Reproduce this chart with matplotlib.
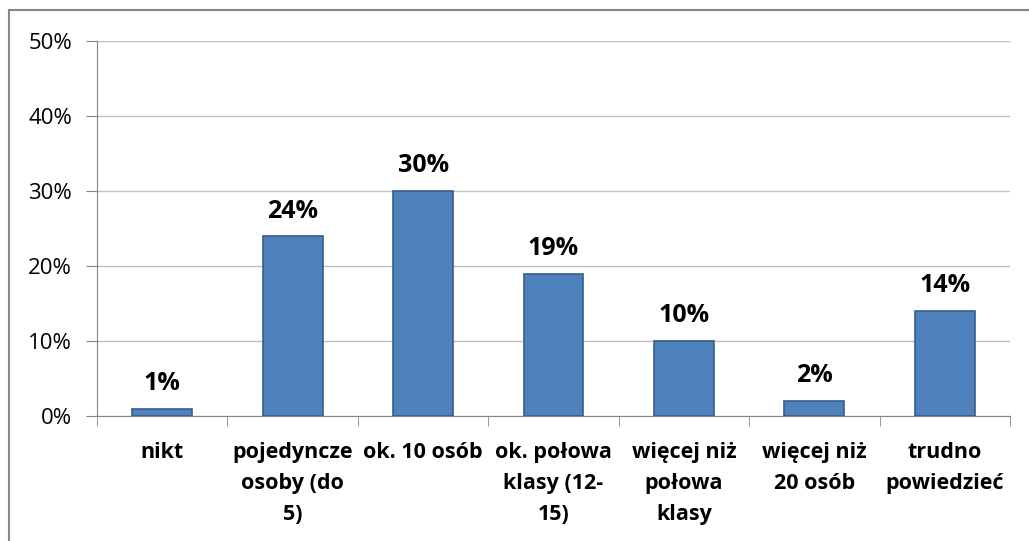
import numpy as np
import matplotlib.pyplot as plt
from matplotlib.patches import Rectangle

# dane z wykresu
kategorie = ['nikt', 'pojedyncze\nosoby (do\n5)', 'ok. 10 osób', 'ok. połowa\nklasy (12-\n15)',
             'więcej niż\npołowa\nklasy', 'więcej niż\n20 osób', 'trudno\npowiedzieć']
wartosci = [1, 24, 30, 19, 10, 2, 14]
etykiety_y = ['0%', '10%', '20%', '30%', '40%', '50%']

plt.rcParams['font.family'] = ['Open Sans', 'DejaVu Sans']

fig = plt.figure(figsize=(10.29, 5.41), dpi=100)
ax = fig.add_axes([97/1029, 1-416/541, (1010-97)/1029, (416-41)/541])

x = np.arange(len(kategorie))
ax.bar(x, wartosci, width=0.46, color='#4f81bd', edgecolor='#385d8a', linewidth=1.2, zorder=3)

for xi, v in zip(x, wartosci):
    ax.annotate(f'{v}%', (xi, v), xytext=(0, 9), textcoords='offset points',
                ha='center', va='bottom', fontsize=18, fontweight='bold')

ax.set_xlim(-0.5, len(kategorie)-0.5)
ax.set_ylim(0, 50)
ax.set_yticks(np.arange(0, 51, 10))
ax.set_yticklabels(etykiety_y, fontsize=16)
ax.yaxis.grid(True, color='#c0c0c0', linewidth=1, zorder=0)

ax.set_xticks(x)
ax.set_xticklabels(kategorie, fontsize=15.5, fontweight='bold', linespacing=1.62, va='top')
ax.tick_params(axis='x', length=0, pad=19)
ax.set_xticks(np.arange(-0.5, len(kategorie)), minor=True)
ax.tick_params(axis='x', which='minor', length=7, color='#868686', direction='out')
ax.tick_params(axis='y', length=8, color='#868686', pad=10)

for s in ['top', 'right']:
    ax.spines[s].set_visible(False)
for s in ['left', 'bottom']:
    ax.spines[s].set_color('#868686')

# ramka wykresu (wychodzi poza prawy i dolny brzeg)
fig.patches.append(Rectangle((9/1029, -0.05), 1.2, 1-10/541+0.05, transform=fig.transFigure,
                             fill=False, edgecolor='#868686', linewidth=1.5))

fig.savefig('out.png', dpi=100)
